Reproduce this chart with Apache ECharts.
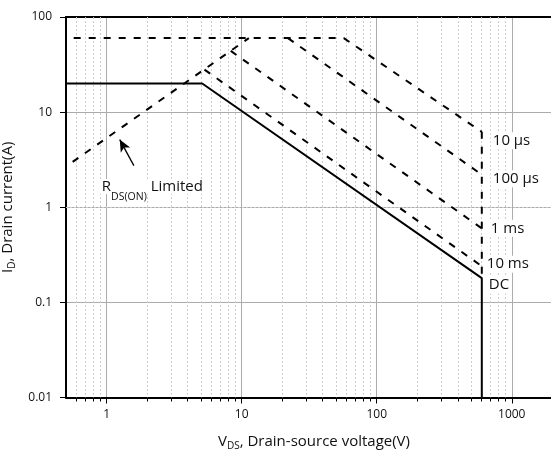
<!DOCTYPE html>
<html><head><meta charset="utf-8">
<script src="https://cdn.jsdelivr.net/npm/echarts@6/dist/echarts.min.js"></script>
<style>html,body{margin:0;padding:0;background:#fff;overflow:hidden}#c{width:551px;height:457px}</style>
</head><body><div id="c"></div>
<script>
// ---------- data ----------
const xMinor = [0.6,0.7,0.8,0.9,2,3,4,5,6,7,8,9,20,30,40,50,60,70,80,90,200,300,400,500,600,700,800,900];
const yMinor = [0.02,0.03,0.04,0.05,0.06,0.07,0.08,0.09,0.2,0.3,0.4,0.5,0.6,0.7,0.8,0.9,2,3,4,5,6,7,8,9,20,30,40,50,60,70,80,90];
const dcLine    = [[0.5,20],[5.1,20],[600,0.18],[600,0.01]];
const rdsLine   = [[0.56,3],[11.3,60]];
const us10Line  = [[0.57,60],[57,60],[600,6.2]];
const us100Line = [[22,60],[600,2.2]];
const ms1Line   = [[8.3,44],[600,0.6]];
const ms10Line  = [[5.3,28],[600,0.24]];
const vLimitLine = [[600,6.2],[600,0.18]];
const rdsArrow  = [[1.59,2.74],[1.25,5.14]];
const curveNames = ['10 µs','100 µs','1 ms','10 ms','DC'];

// ---------- chart ----------
const FONT = 'Open Sans';
const X_MIN = 0.5, X_MAX = 2200, Y_MIN = 0.01, Y_MAX = 100;
const isDecade = v => Math.abs(Math.log10(v) - Math.round(Math.log10(v))) < 1e-6;
const crisp = v => Math.round(v - 0.5) + 0.5;
const chart = echarts.init(document.getElementById('c'));

function minorRender(dir) {
  return function (params, api) {
    const v = api.value(0);
    if (dir === 'x') {
      const p0 = api.coord([v, Y_MIN]), p1 = api.coord([v, Y_MAX]);
      const x = crisp(p0[0]);
      return {type: 'group', children: [
        {type: 'line', shape: {x1: x, y1: p1[1], x2: x, y2: p0[1]}, style: {stroke: '#cdcdcd', lineWidth: 1, lineDash: [2, 2]}},
        {type: 'line', shape: {x1: x, y1: p0[1], x2: x, y2: p0[1] + 4}, style: {stroke: '#000', lineWidth: 1}}
      ]};
    } else {
      const p0 = api.coord([X_MIN, v]), p1 = api.coord([X_MAX, v]);
      const y = crisp(p0[1]);
      return {type: 'group', children: [
        {type: 'line', shape: {x1: p0[0], y1: y, x2: p1[0], y2: y}, style: {stroke: '#cdcdcd', lineWidth: 1, lineDash: [2, 2]}},
        {type: 'line', shape: {x1: p0[0] - 4, y1: y, x2: p0[0], y2: y}, style: {stroke: '#000', lineWidth: 1}}
      ]};
    }
  };
}

function curveLabel(text, coord, offset) {
  return {
    symbol: 'circle', symbolSize: 0, silent: true, animation: false,
    label: {show: true, position: 'right', distance: 0, offset: offset, formatter: text,
      color: '#111', fontFamily: FONT, fontSize: 15, backgroundColor: '#fff', padding: [1, 2]},
    data: [{coord: coord}]
  };
}

const dashed = {color: '#000', width: 2, type: [7, 8]};
function lineSeries(data, style, extra) {
  return Object.assign({type: 'line', data: data, symbol: 'none', showSymbol: false, silent: true,
    animation: false, z: 4, lineStyle: style}, extra || {});
}

const subRich = (P) => ({
  a: {fontFamily: FONT, fontSize: 15, color: '#111'},
  s: {fontFamily: FONT, fontSize: 10, color: '#111', lineHeight: 10, padding: [P, 0, 0, 0]}
});

const option = {
  animation: false,
  backgroundColor: '#fff',
  grid: {left: 66, top: 17, width: 492, height: 380.5, outerBoundsMode: 'none', containLabel: false},
  xAxis: [{
    type: 'log', logBase: 10, min: X_MIN, max: X_MAX,
    name: '{a|V}{s|DS}{a|, Drain-source voltage(V)}', nameLocation: 'middle', nameGap: 37,
    nameTextStyle: {rich: subRich(9), padding: [0, 0, 0, 4]},
    axisLine: {show: true, onZero: false, lineStyle: {color: '#000', width: 2}},
    axisTick: {show: true, length: 6, lineStyle: {color: '#000', width: 1}},
    axisLabel: {margin: 11, fontFamily: FONT, fontSize: 12, color: '#111', showMinLabel: false, showMaxLabel: false,
      formatter: v => isDecade(v) ? String(+v.toPrecision(6)) : ''},
    splitLine: {show: true, showMinLine: false, showMaxLine: false, lineStyle: {color: '#ababab', width: 1}},
    minorTick: {show: false}
  }, {
    type: 'log', logBase: 10, min: X_MIN, max: X_MAX, position: 'top',
    axisLine: {show: true, onZero: false, lineStyle: {color: '#000', width: 2}},
    axisTick: {show: false}, axisLabel: {show: false}, splitLine: {show: false}
  }],
  yAxis: {
    type: 'log', logBase: 10, min: Y_MIN, max: Y_MAX,
    name: '{a|I}{s|D}{a|, Drain current(A)}', nameLocation: 'middle', nameGap: 37, nameRotate: 90,
    nameTextStyle: {rich: subRich(9)},
    axisLine: {show: true, onZero: false, lineStyle: {color: '#000', width: 2}},
    axisTick: {show: true, length: 6, lineStyle: {color: '#000', width: 1}},
    axisLabel: {margin: 14, fontFamily: FONT, fontSize: 12, color: '#111',
      formatter: v => isDecade(v) ? String(+v.toPrecision(6)) : ''},
    splitLine: {show: true, showMinLine: false, showMaxLine: false, lineStyle: {color: '#ababab', width: 1}}
  },
  series: [
    {type: 'custom', renderItem: minorRender('x'), data: xMinor.map(v => [v, 1]), silent: true, z: 1, animation: false},
    {type: 'custom', renderItem: minorRender('y'), data: yMinor.map(v => [1, v]), silent: true, z: 1, animation: false},
    lineSeries(rdsLine, dashed, {
      markLine: {silent: true, animation: false, symbol: ['none', 'arrow'], symbolSize: [8, 12],
        lineStyle: {color: '#000', width: 1.3, type: 'solid'}, label: {show: false},
        data: [[{coord: rdsArrow[0]}, {coord: rdsArrow[1]}]]},
      markPoint: {symbol: 'circle', symbolSize: 0, silent: true, animation: false,
        label: {show: true, position: 'right', distance: 0, offset: [-34, 21],
          formatter: '{a|R}{s|DS(ON)}{a| Limited}', backgroundColor: '#fff', padding: [0, 2],
          rich: {a: {fontFamily: FONT, fontSize: 15, color: '#111'},
                 s: {fontFamily: FONT, fontSize: 10.5, color: '#111', lineHeight: 10, padding: [20, 0, 0, 0]}}},
        data: [{coord: rdsArrow[0]}]}
    }),
    lineSeries(us10Line, dashed, {markPoint: curveLabel(curveNames[0], us10Line[us10Line.length - 1], [9, 9])}),
    lineSeries(us100Line, dashed, {markPoint: curveLabel(curveNames[1], us100Line[us100Line.length - 1], [9, 4])}),
    lineSeries(ms1Line, dashed, {markPoint: curveLabel(curveNames[2], ms1Line[ms1Line.length - 1], [7, 0])}),
    lineSeries(ms10Line, dashed, {markPoint: curveLabel(curveNames[3], ms10Line[ms10Line.length - 1], [3, -2])}),
    lineSeries(vLimitLine, dashed),
    lineSeries(dcLine, {color: '#000', width: 2, type: 'solid'}, {markPoint: curveLabel(curveNames[4], dcLine[2], [5, 7])})
  ]
};
chart.setOption(option);
</script>
</body></html>
